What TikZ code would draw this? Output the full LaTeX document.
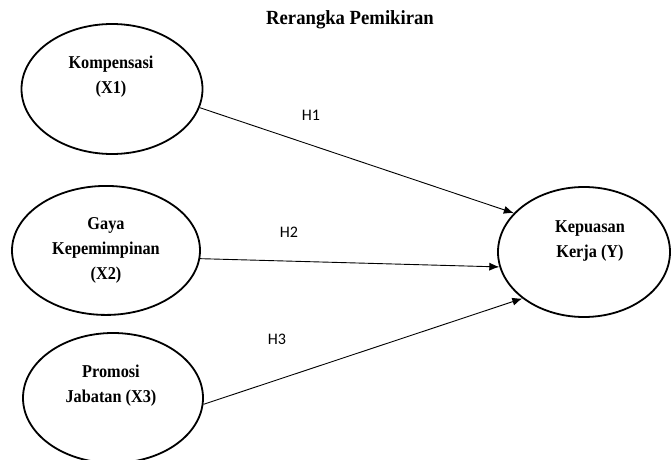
\documentclass[tikz,border=0pt]{standalone}
\usepackage{fontspec}
\setmainfont{Liberation Serif}
\newfontfamily\hurufVar[FakeStretch=0.9]{Liberation Serif}
\newfontfamily\hurufJudul[FakeStretch=0.93]{Liberation Serif}
\newfontfamily\hurufH{Carlito}
\usetikzlibrary{positioning,arrows.meta,shapes.geometric}
\tikzset{
  variabel/.style={ellipse, draw=black, line width=1.8pt, minimum width=6.3cm,
    minimum height=4.55cm, inner sep=0pt},
  teks/.style={align=center, font=\hurufVar\bfseries\fontsize{18}{25}\selectfont},
  judul/.style={font=\hurufJudul\bfseries\fontsize{20}{24}\selectfont},
  hipotesis/.style={font=\hurufH\fontsize{16}{19}\selectfont},
  panah/.style={-{Latex[length=10pt,width=8pt]}, line width=0.9pt},
}

\begin{document}
\begin{tikzpicture}
    \useasboundingbox (0,0) rectangle (23.485,16.065);
    \node[judul] (jdl) at (12.25,15.365) {Rerangka Pemikiran};
    % variabel bebas
    \node[variabel, minimum width=6.335cm] (x1) at (3.92,12.95) {};
    \node[variabel, minimum width=6.58cm, minimum height=4.515cm] (x2) at (3.71,7.30) {};
    \node[variabel] (x3) at (3.955,2.135) {};
    % variabel terikat
    \node[variabel, minimum width=6.02cm] (y) at (20.44,7.245) {};
    \node[teks] (tx1) at (3.885,13.39) {Kompensasi\\(X1)};
    \node[teks] (tx2) at (3.71,7.30) {Gaya\\Kepemimpinan\\(X2)};
    \node[teks] (tx3) at (3.885,2.57) {Promosi\\Jabatan (X3)};
    \node[teks] (ty) at (20.65,7.63) {Kepuasan\\Kerja (Y)};
    \node[hipotesis] (h1) at (10.885,12.04) {H1};
    \node[hipotesis] (h2) at (10.115,7.945) {H2};
    \node[hipotesis] (h3) at (9.695,4.2) {H3};
    \foreach \v/\p/\q in {x1/-12/151, x2/-5/190, x3/-4/217}{\draw[panah] (\v.\p) -- (y.\q);}
  \end{tikzpicture}
\end{document}
